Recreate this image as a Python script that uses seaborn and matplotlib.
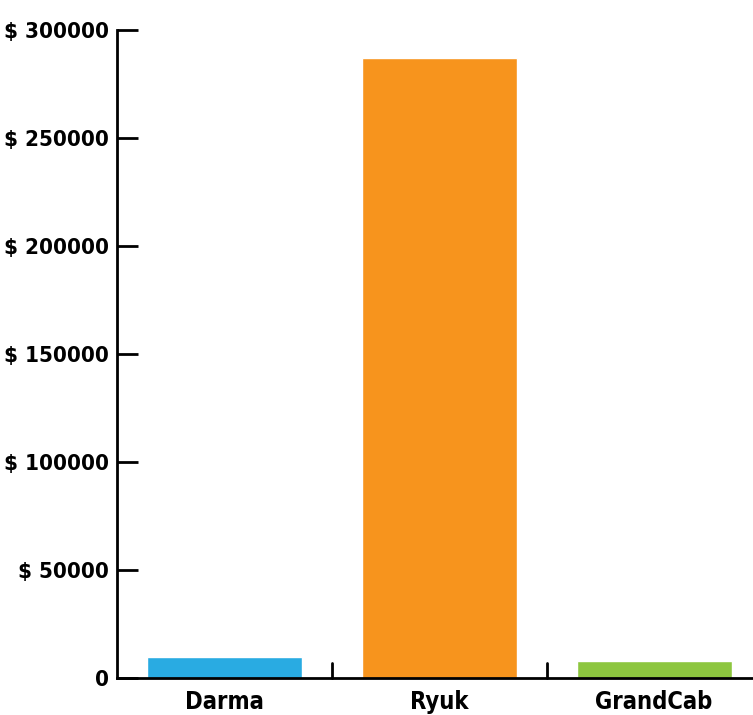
import matplotlib
matplotlib.use("Agg")
import matplotlib.pyplot as plt
import seaborn as sns
import pandas as pd

families = ["Darma", "Ryuk", "GrandCab"]
payments = [9700, 287000, 7900]
bar_colors = ["#29ABE2", "#F7941D", "#8DC63F"]
y_ticks = [0, 50000, 100000, 150000, 200000, 250000, 300000]
y_tick_labels = ["0", "$ 50000", "$ 100000", "$ 150000", "$ 200000", "$ 250000", "$ 300000"]

sns.set_style("white")
plt.rcParams["font.family"] = ["DejaVu Sans"]
plt.rcParams["font.stretch"] = "condensed"
plt.rcParams["text.color"] = "black"
plt.rcParams["xtick.color"] = "black"
plt.rcParams["ytick.color"] = "black"

df = pd.DataFrame({"family": families, "payment": payments})

fig = plt.figure(figsize=(7.53, 7.15), dpi=100)
ax = fig.add_axes([0.1554, 0.052, 0.8446, 0.906])

sns.barplot(data=df, x="family", y="payment", hue="family", palette=bar_colors,
            width=0.72, saturation=1, legend=False, ax=ax)

ax.set_xlim(-0.5, 2.46)
ax.set_ylim(0, 300000)
ax.set_xlabel("")
ax.set_ylabel("")

ax.set_yticks(y_ticks)
ax.set_yticklabels(y_tick_labels, fontsize=16, fontweight="bold", fontstretch="condensed")
ax.set_xticks([0, 1, 2])
ax.set_xticklabels(families, fontsize=17, fontweight="bold", fontstretch="condensed")
ax.tick_params(axis="x", length=0, pad=9)
ax.tick_params(axis="y", direction="in", length=15, width=2, pad=6, left=True)

# boundary ticks between categories, pointing up
for xb in [0.5, 1.5]:
    ax.plot([xb, xb], [0, 7000], color="black", lw=2, clip_on=False)

for side in ["top", "right"]:
    ax.spines[side].set_visible(False)
for side in ["left", "bottom"]:
    ax.spines[side].set_linewidth(2)
    ax.spines[side].set_color("black")

fig.savefig("out.png", dpi=100)
